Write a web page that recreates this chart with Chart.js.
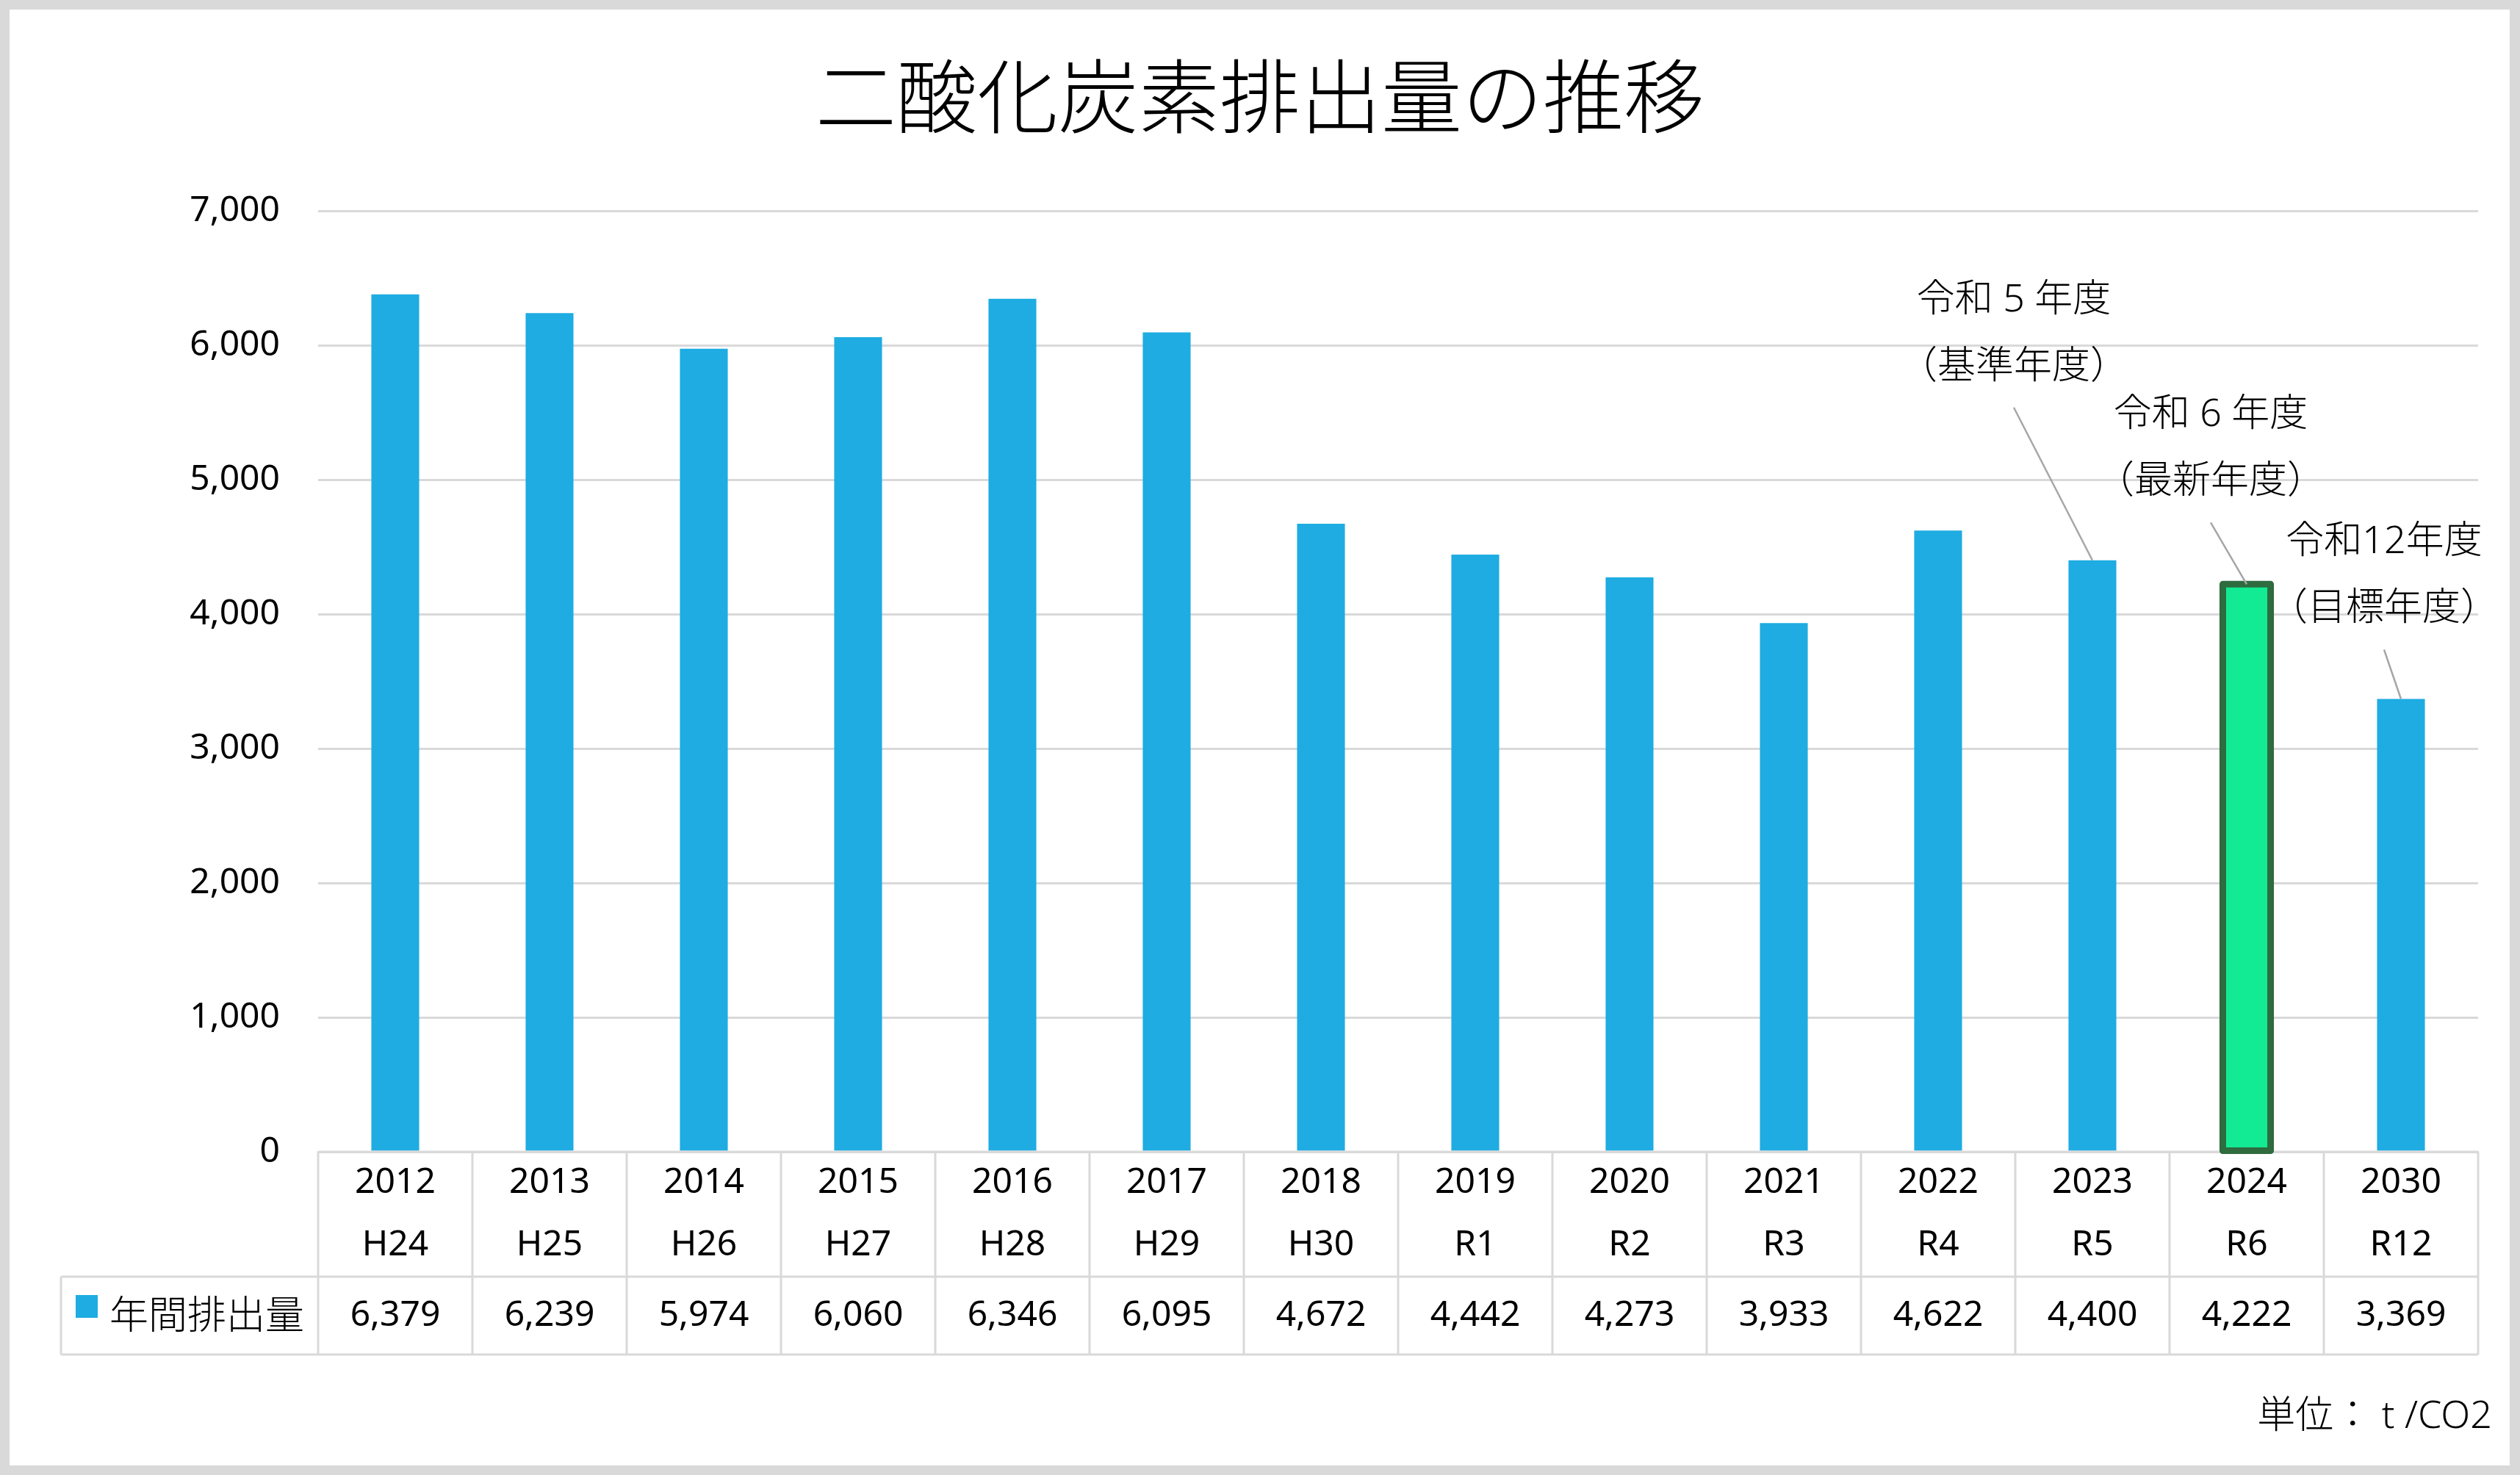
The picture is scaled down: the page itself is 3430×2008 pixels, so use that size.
<!DOCTYPE html>
<html lang="ja">
<head>
<meta charset="utf-8">
<title>二酸化炭素排出量の推移</title>
<script src="https://cdn.jsdelivr.net/npm/chart.js@4.4.1/dist/chart.umd.min.js"></script>
<style>
html,body{margin:0;padding:0;background:#d9d9d9;overflow:hidden;}
canvas{display:block;}
</style>
</head>
<body>
<canvas id="chart" width="3430" height="2008" style="width:3430px;height:2008px"></canvas>
<script>
// ---- data ----
const chartTitle = '二酸化炭素排出量の推移';
const years = ['2012','2013','2014','2015','2016','2017','2018','2019','2020','2021','2022','2023','2024','2030'];
const eras = ['H24','H25','H26','H27','H28','H29','H30','R1','R2','R3','R4','R5','R6','R12'];
const emissions = [6379,6239,5974,6060,6346,6095,4672,4442,4273,3933,4622,4400,4222,3369];
const yTickValues = [0,1000,2000,3000,4000,5000,6000,7000];
const seriesName = '年間排出量';
const unitLabel = '単位： t /CO2';
const highlightIndex = 12;
const calloutIndex = [11, 12, 13];
const calloutLine1 = ['令和 5 年度', '令和 6 年度', '令和12年度'];
const calloutLine2 = ['（基準年度）', '（最新年度）', '（目標年度）'];

// ---- styles ----
const BLUE = '#1eace2';
const GREEN = '#13eb94';
const GREEN_BORDER = '#2e6b3f';
const GRID = '#d9d9d9';
const FONT_LATIN = '"Noto Sans", "Noto Sans CJK JP", sans-serif';
const FONT_CJK = '"Noto Sans CJK JP", "Noto Sans", sans-serif';
// label offsets (pixels) of callout leader-line start relative to bar top centre
const calloutOffsets = [[-107, -208], [-49, -84], [-23, -67]];

const bgPlugin = {
  id: 'bg',
  beforeDraw(chart) {
    const ctx = chart.ctx;
    ctx.save();
    ctx.fillStyle = '#d9d9d9';
    ctx.fillRect(0, 0, chart.width, chart.height);
    ctx.fillStyle = '#ffffff';
    ctx.fillRect(13, 13, 3416 - 13, 1995 - 13);
    ctx.restore();
  }
};

const tablePlugin = {
  id: 'dataTable',
  afterDatasetsDraw(chart) {
    const {ctx, chartArea: a, scales: {x}} = chart;
    const n = years.length;
    const cw = (x.right - x.left) / n;
    const top = a.bottom, mid = top + 170, bot = top + 276;
    const legendLeft = 83;
    ctx.save();
    ctx.strokeStyle = GRID;
    ctx.lineWidth = 3;
    ctx.beginPath();
    for (let i = 0; i <= n; i++) {
      const px = x.left + i * cw;
      ctx.moveTo(px, top); ctx.lineTo(px, bot);
    }
    ctx.moveTo(legendLeft, mid); ctx.lineTo(legendLeft, bot);
    ctx.moveTo(legendLeft, mid); ctx.lineTo(x.right, mid);
    ctx.moveTo(legendLeft, bot); ctx.lineTo(x.right, bot);
    ctx.moveTo(x.left, top); ctx.lineTo(x.right, top);
    ctx.stroke();

    // value row
    ctx.fillStyle = '#000';
    ctx.font = '48px ' + FONT_LATIN;
    ctx.textAlign = 'center';
    ctx.textBaseline = 'middle';
    const rowY = (mid + bot) / 2;
    emissions.forEach((v, i) => {
      ctx.fillText(v.toLocaleString('en-US'), x.getPixelForValue(i), rowY);
    });

    // legend key
    ctx.fillStyle = BLUE;
    ctx.fillRect(legendLeft + 20, mid + 25, 30, 31);
    ctx.fillStyle = '#000';
    ctx.font = '300 53px ' + FONT_CJK;
    ctx.textAlign = 'left';
    ctx.fillText(seriesName, legendLeft + 66, rowY - 2);

    // unit label
    ctx.textAlign = 'right';
    ctx.font = '300 52px ' + FONT_LATIN;
    ctx.fillText(unitLabel, 3392, 1929);

    // highlighted bar border (centred on bar edges)
    const meta = chart.getDatasetMeta(0);
    const el = meta.data[highlightIndex];
    if (el) {
      const p = el.getProps(['x', 'y', 'width', 'base'], true);
      ctx.strokeStyle = GREEN_BORDER;
      ctx.lineWidth = 9;
      ctx.lineJoin = 'round';
      ctx.strokeRect(p.x - p.width / 2, p.y, p.width, p.base - p.y);
    }

    // callouts
    calloutIndex.forEach((idx, k) => {
      const b = meta.data[idx];
      if (!b) return;
      const p = b.getProps(['x', 'y'], true);
      const sx = p.x + calloutOffsets[k][0];
      const sy = p.y + calloutOffsets[k][1];
      ctx.strokeStyle = '#a6a6a6';
      ctx.lineWidth = 2.5;
      ctx.beginPath();
      ctx.moveTo(sx, sy);
      ctx.lineTo(p.x, p.y);
      ctx.stroke();
      ctx.fillStyle = '#000';
      ctx.font = '300 52px ' + FONT_LATIN;
      ctx.textAlign = 'center';
      ctx.textBaseline = 'middle';
      ctx.fillText(calloutLine2[k], sx, sy - 55);
      ctx.fillText(calloutLine1[k], sx, sy - 55 - 91);
    });
    ctx.restore();
  }
};

new Chart(document.getElementById('chart'), {
  type: 'bar',
  data: {
    labels: years.map((y, i) => [y, eras[i]]),
    datasets: [{
      label: seriesName,
      data: emissions,
      backgroundColor: emissions.map((_, i) => i === highlightIndex ? GREEN : BLUE),
      borderWidth: 0,
      categoryPercentage: 1,
      barPercentage: 0.31
    }]
  },
  options: {
    responsive: false,
    animation: false,
    devicePixelRatio: 1,
    layout: { padding: { left: 57, right: 57, top: 0, bottom: 0 } },
    plugins: {
      legend: { display: false },
      tooltip: { enabled: false },
      title: {
        display: true,
        text: chartTitle,
        color: '#000',
        font: { family: FONT_CJK, size: 110, weight: 300, lineHeight: 1.2 },
        padding: { top: 65, bottom: 90 }
      }
    },
    scales: {
      x: {
        grid: { display: false, drawTicks: false },
        border: { display: true, color: GRID, width: 3 },
        ticks: {
          color: '#000',
          font: { family: FONT_LATIN, size: 48, lineHeight: 85 / 48 },
          padding: 0,
          maxRotation: 0,
          minRotation: 0,
          autoSkip: false
        },
        afterFit: s => { s.height = 440; }
      },
      y: {
        min: 0,
        max: 7000,
        grid: { color: GRID, lineWidth: 3, drawTicks: false },
        border: { display: false },
        ticks: {
          color: '#000',
          font: { family: FONT_LATIN, size: 48 },
          padding: 52,
          callback: v => Number(v).toLocaleString('en-US')
        },
        afterBuildTicks: s => { s.ticks = yTickValues.map(v => ({ value: v })); },
        afterFit: s => { s.width = 376; }
      }
    }
  },
  plugins: [bgPlugin, tablePlugin]
});
</script>
</body>
</html>
